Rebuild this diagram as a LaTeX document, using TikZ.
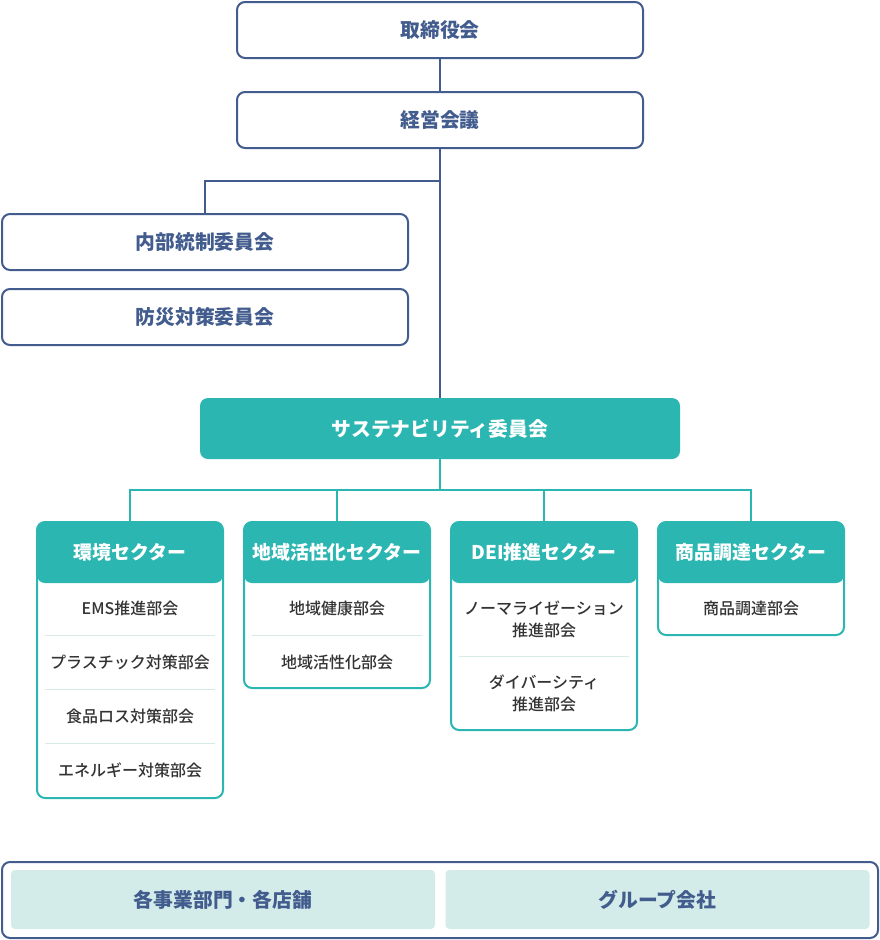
\documentclass[tikz,border=0pt]{standalone}
\usepackage{fontspec}
\setmainfont{Noto Sans CJK JP}
\newfontfamily\medfont{Noto Sans CJK JP Medium}
\definecolor{navy}{HTML}{425C8E}
\definecolor{tealc}{HTML}{2BB6B2}
\definecolor{lightc}{HTML}{D4ECE9}
\definecolor{sepc}{HTML}{D6EAE8}
\definecolor{itemc}{HTML}{333333}
\tikzset{
  navybox/.style={draw=navy, line width=2pt, rounded corners=8pt, fill=white,
    minimum width=406pt, minimum height=56pt, text=navy, inner sep=0pt,
    font=\bfseries\fontsize{19.8}{22}\selectfont},
  susbox/.style={fill=tealc, rounded corners=8pt, minimum width=480pt, minimum height=61pt,
    text=white, inner sep=0pt, font=\bfseries\fontsize{19.8}{22}\selectfont},
  sector/.style={draw=tealc, line width=2pt, rounded corners=8pt, fill=white,
    minimum width=186pt, inner sep=0pt,
    path picture={\fill[tealc] (path picture bounding box.north west) rectangle ([yshift=-61pt]path picture bounding box.north east);}},
  hdr/.style={text=white, font=\bfseries\fontsize{18.9}{22}\selectfont, inner sep=0pt},
  item/.style={text=itemc, font=\medfont\fontsize{16}{22}\selectfont, inner sep=0pt, align=center},
  sepline/.style={draw=sepc, line width=1pt},
  navyline/.style={draw=navy, line width=2pt},
  tealline/.style={draw=tealc, line width=2pt},
  unitbox/.style={fill=lightc, rounded corners=4pt, minimum width=424pt, minimum height=59pt,
    text=navy, inner sep=0pt, font=\bfseries\fontsize{19.8}{22}\selectfont},
  outerbox/.style={draw=navy, line width=2pt, rounded corners=8pt, minimum width=876pt, minimum height=76pt, inner sep=0pt}
}
\begin{document}
\begin{tikzpicture}[x=1pt,y=-1pt]
\useasboundingbox (0,0) rectangle (880,940);
\coordinate (j1) at (440,181);
\coordinate (j2) at (440,490);
\node[navybox] (torishimari) at (440,30) {取締役会};
\node[navybox] (keiei) at (440,120) {経営会議};
\node[navybox] (naibu) at (205,242) {内部統制委員会};
\node[navybox] (bousai) at (205,317) {防災対策委員会};
\node[susbox] (sus) at (440,428.5) {サステナビリティ委員会};
\draw[navyline] (torishimari.south) -- (keiei.north);
\draw[navyline] (keiei.south) -- (sus.north);
\draw[navyline] (j1) -| (naibu.north);
% sectors
\node[sector, minimum height=276pt] (s1) at (130,660) {};
\node[sector, minimum height=166pt] (s2) at (337,605) {};
\node[sector, minimum height=208pt] (s3) at (544,626) {};
\node[sector, minimum height=113pt] (s4) at (751,578.5) {};
\draw[tealline] (sus.south) -- (j2);
\draw[tealline] (j2) -| (s1.north);
\draw[tealline] (j2) -| (s2.north);
\draw[tealline] (j2) -| (s3.north);
\draw[tealline] (j2) -| (s4.north);
% headers
\node[hdr] (h1) at (130,552) {環境セクター};
\node[hdr] (h2) at (337,552) {地域活性化セクター};
\node[hdr] (h3) at (544,552) {DEI推進セクター};
\node[hdr] (h4) at (751,552) {商品調達セクター};
% items sector 1
\node[item] (i11) at (130,608) {EMS推進部会};
\node[item] (i12) at (130,662) {プラスチック対策部会};
\node[item] (i13) at (130,716) {食品ロス対策部会};
\node[item] (i14) at (130,770) {エネルギー対策部会};
\draw[sepline] (45,635) -- (215,635);
\draw[sepline] (45,689) -- (215,689);
\draw[sepline] (45,743) -- (215,743);
% sector 2
\node[item] (i21) at (337,608) {地域健康部会};
\node[item] (i22) at (337,662) {地域活性化部会};
\draw[sepline] (252,635) -- (422,635);
% sector 3
\node[item] (i31) at (544,619) {ノーマライゼーション\\推進部会};
\node[item] (i32) at (544,693) {ダイバーシティ\\推進部会};
\draw[sepline] (459,656) -- (629,656);
% sector 4
\node[item] (i41) at (751,608) {商品調達部会};
% bottom
\node[outerbox] (bottom) at (440,900) {};
\node[unitbox] (jigyo) at (223,899.5) {各事業部門・各店舗};
\node[unitbox] (group) at (657.5,899.5) {グループ会社};
\end{tikzpicture}
\end{document}
